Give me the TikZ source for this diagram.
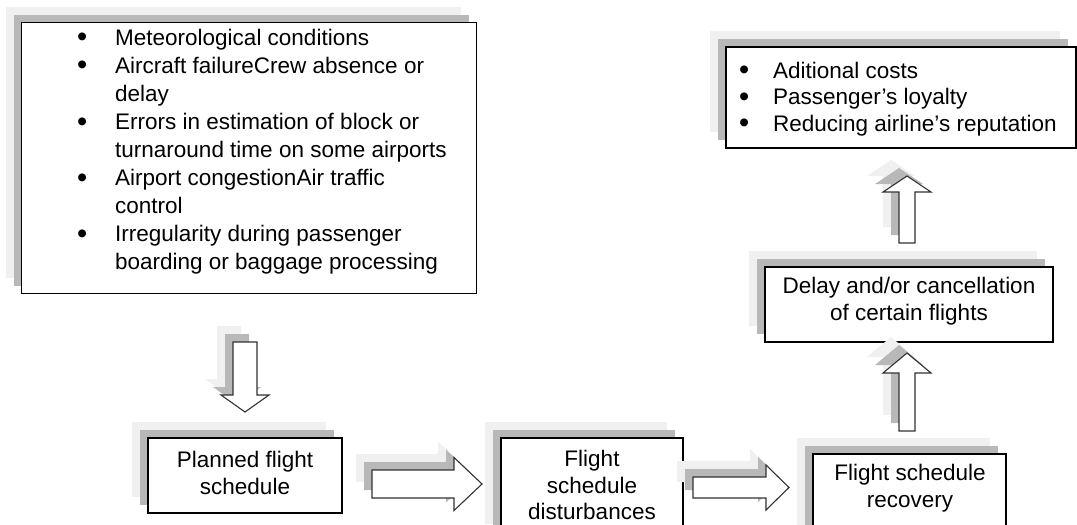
\documentclass[tikz,border=0pt]{standalone}
\usepackage{fontspec}
\setmainfont{Liberation Sans}
\usetikzlibrary{shadows}
\definecolor{shlight}{RGB}{240,240,240}
\definecolor{shdark}{RGB}{184,184,184}
\definecolor{arrline}{RGB}{50,50,50}
\newcommand\mybul{\raisebox{-1.8pt}{\fontsize{29}{29}\selectfont\textbullet}}
\tikzset{
  twoshadow/.style={
    general shadow={fill=shlight, draw=none, shadow xshift=-16pt, shadow yshift=16pt},
    general shadow={fill=shdark, draw=none, shadow xshift=-8pt, shadow yshift=8pt}},
  box/.style={draw=black, line width=1.8pt, fill=white, twoshadow, inner sep=0pt},
  txt/.style={inner sep=0pt, align=center, font=\fontsize{22.5}{26.5}\selectfont},
  listtxt/.style={inner sep=0pt, anchor=base west},
  barrow/.style={draw=arrline, line width=1.1pt, fill=white, line join=miter, twoshadow},
  pics/varrow/.style args={#1/#2/#3/#4}{code={
    \path[barrow] (-#2/2,0) -- (-#2/2,{(#1)-(#4)}) -- (-#3/2,{(#1)-(#4)}) -- (0,#1)
      -- (#3/2,{(#1)-(#4)}) -- (#2/2,{(#1)-(#4)}) -- (#2/2,0) -- cycle;
  }},
  pics/harrow/.style args={#1/#2/#3/#4}{code={
    \path[barrow] (0,-#2/2) -- ({(#1)-(#4)},-#2/2) -- ({(#1)-(#4)},-#3/2) -- (#1,0)
      -- ({(#1)-(#4)},#3/2) -- ({(#1)-(#4)},#2/2) -- (0,#2/2) -- cycle;
  }}
}
\begin{document}
\begin{tikzpicture}[x=1pt, y=-1pt]
\useasboundingbox (0,0) rectangle (1077,525);
\clip (0,0) rectangle (1077,525);
\fill[white] (0,0) rectangle (1077,525);

% boxes
\node[box, minimum width=455pt, minimum height=271pt] (b1) at (249,158) {};
\node[box, minimum width=350pt, minimum height=101pt] (b2) at (901,97.5) {};
\node[box, minimum width=288pt, minimum height=75pt] (b3) at (909,304.5) {};
\node[box, minimum width=194pt, minimum height=75pt] (b4) at (245,475.5) {};
\node[box, minimum width=182pt, minimum height=102pt] (b5) at (592,489) {};
\node[box, minimum width=193pt, minimum height=91pt] (b6) at (909.5,499.5) {};

% list texts
\node[listtxt] (l1) at (77,45) {\fontsize{22.5}{28.1}\selectfont
  \begin{tabular}[t]{@{}p{38pt}@{}l@{}}
  \mybul & Meteorological conditions\\
  \mybul & Aircraft failureCrew absence or\\
         & delay\\
  \mybul & Errors in estimation of block or\\
         & turnaround time on some airports\\
  \mybul & Airport congestionAir traffic\\
         & control\\
  \mybul & Irregularity during passenger\\
         & boarding or baggage processing
  \end{tabular}};
\node[listtxt] (l2) at (739,78) {\fontsize{22.5}{26.5}\selectfont
  \begin{tabular}[t]{@{}p{34pt}@{}l@{}}
  \mybul & Aditional costs\\
  \mybul & Passenger’s loyalty\\
  \mybul & Reducing airline’s reputation
  \end{tabular}};

% box texts
\node[txt] (t3) at (909,301) {Delay and/or cancellation\\of certain flights};
\node[txt] (t4) at (245,473) {Planned flight\\schedule};
\node[txt] (t5) at (592,485) {Flight\\schedule\\disturbances};
\node[txt] (t6) at (910,488) {Flight schedule\\recovery};

% block arrows
\pic at (245,342) {varrow={70/24/48/17}};
\pic at (372,484) {harrow={110/28/53/28}};
\pic at (693,487.5) {harrow={96/21/45/23}};
\pic at (907,431) {varrow={-78/16/48/-20}};
\pic at (907,243) {varrow={-67/16/48/-16}};
\end{tikzpicture}
\end{document}
